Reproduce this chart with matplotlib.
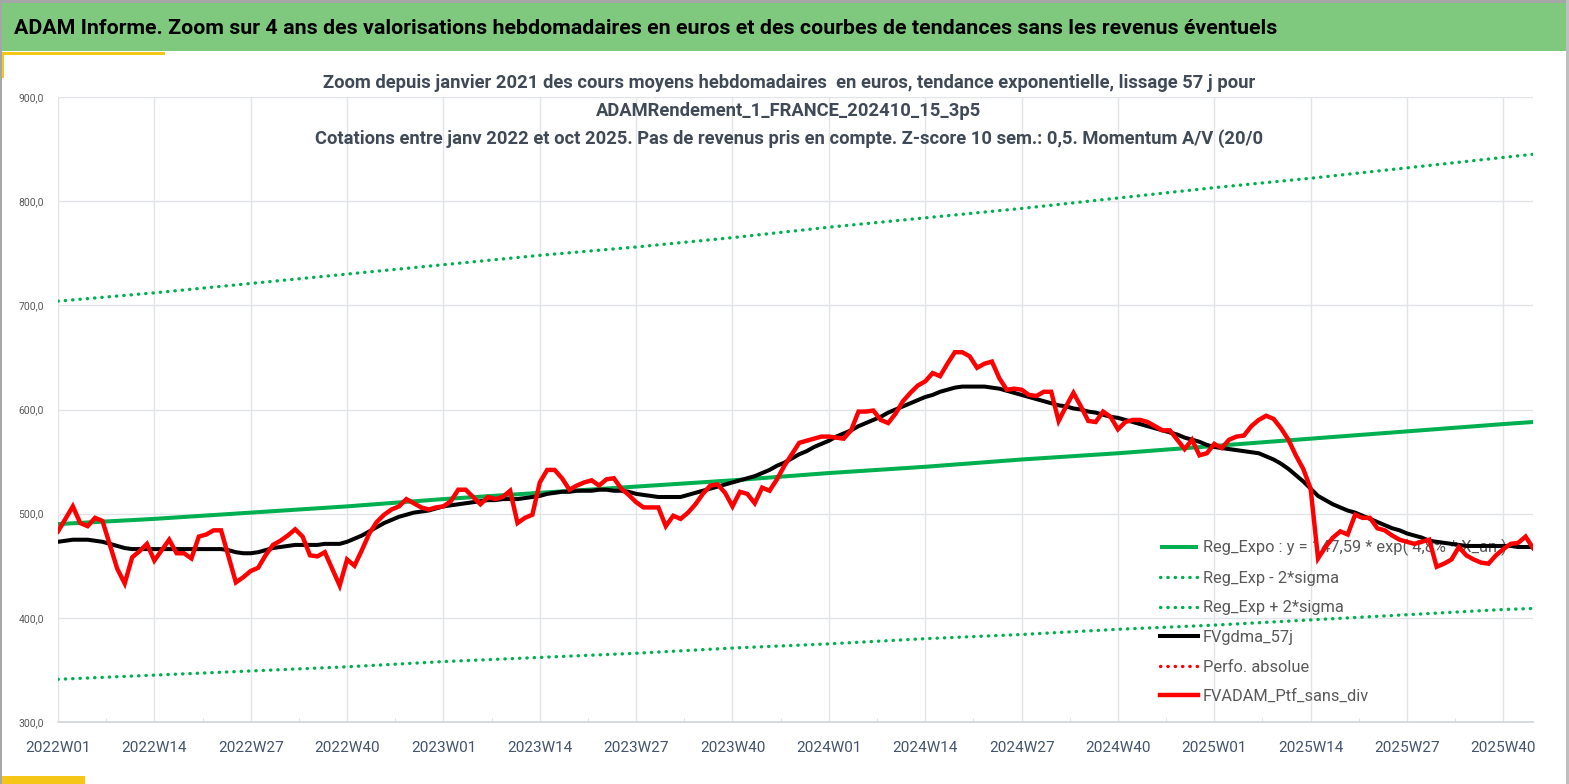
import matplotlib
matplotlib.use('Agg')
import matplotlib.pyplot as plt
from matplotlib import font_manager
from matplotlib.patches import Rectangle
from matplotlib.ticker import FixedLocator

W, H = 1569, 784

# week labels 2022W01 .. 2025W44
years = [2022] * 52 + [2023] * 52 + [2024] * 52 + [2025] * 44
weeknums = list(range(1, 53)) * 3 + list(range(1, 45))
week_labels = ['%dW%02d' % (y, w) for y, w in zip(years, weeknums)]

# FVADAM_Ptf_sans_div (weekly)
ptf = [483, 495, 507, 491, 488, 496, 493, 470, 447, 433,
       458, 464, 471, 455, 465, 475, 462, 462, 457, 478,
       480, 484, 484, 459, 434, 439, 445, 448, 460, 470,
       474, 479, 485, 478, 460, 459, 463, 447, 431, 456,
       450, 465, 481, 492, 499, 504, 507, 514, 510, 506,
       504, 506, 507, 512, 523, 523, 516, 509, 516, 514,
       516, 522, 491, 496, 499, 530, 542, 542, 534, 523,
       527, 530, 532, 527, 533, 534, 524, 518, 511, 506,
       506, 506, 488, 498, 495, 501, 509, 519, 527, 528,
       520, 507, 521, 519, 510, 525, 522, 533, 546, 557,
       568, 570, 572, 574, 574, 573, 572, 580, 598, 598,
       599, 590, 587, 596, 608, 616, 623, 627, 635, 632,
       644, 655, 655, 651, 640, 644, 646, 630, 619, 620,
       619, 614, 613, 617, 617, 589, 603, 616, 603, 589,
       588, 598, 593, 581, 588, 590, 590, 588, 584, 580,
       580, 571, 562, 571, 556, 558, 567, 563, 571, 574,
       575, 584, 590, 594, 591, 582, 571, 556, 543, 524,
       457, 468, 477, 483, 480, 499, 496, 496, 486, 484,
       479, 475, 473, 471, 473, 475, 449, 452, 456, 468,
       460, 456, 453, 452, 460, 466, 471, 472, 478, 467]

# FVgdma_57j (weekly)
gdma = [473, 474, 475, 475, 475, 474, 473, 471, 469, 467,
        466, 466, 466, 466, 466, 466, 466, 466, 466, 466,
        466, 466, 466, 465, 463, 462, 462, 463, 465, 467,
        468, 469, 470, 470, 470, 470, 471, 471, 471, 473,
        476, 479, 483, 487, 491, 494, 497, 499, 501, 502,
        503, 505, 507, 508, 509, 510, 511, 512, 513, 513,
        514, 514, 514, 515, 516, 517, 519, 520, 521, 521,
        522, 522, 522, 523, 523, 522, 522, 521, 519, 518,
        517, 516, 516, 516, 516, 518, 520, 522, 524, 526,
        528, 530, 532, 534, 536, 539, 542, 546, 549, 553,
        557, 560, 564, 567, 570, 574, 577, 580, 584, 587,
        590, 593, 597, 600, 603, 606, 609, 612, 614, 617,
        619, 621, 622, 622, 622, 622, 621, 620, 618, 616,
        614, 612, 610, 608, 606, 604, 603, 601, 600, 598,
        597, 595, 593, 592, 590, 588, 586, 584, 582, 580,
        578, 576, 573, 571, 569, 566, 564, 563, 562, 561,
        560, 559, 558, 555, 552, 548, 543, 537, 531, 524,
        517, 513, 509, 506, 503, 501, 498, 495, 492, 489,
        486, 484, 481, 479, 477, 474, 473, 472, 471, 470,
        469, 469, 469, 469, 469, 469, 469, 468, 468, 468]

# trend and bands, read at each 13-week tick and at the last week
trend_weeks = [0, 13, 26, 39, 52, 65, 78, 91, 104, 117, 130, 143, 156, 169, 182, 195, 199]
reg_expo = [490, 495, 501, 507, 514, 520, 526, 532, 539, 545, 552, 558, 565, 572, 579, 586, 588]
reg_plus = [704, 712, 721, 730, 739, 748, 756, 765, 775, 784, 793, 803, 813, 822, 832, 842, 845]
reg_minus = [341, 345, 349, 353, 358, 362, 366, 371, 375, 380, 384, 389, 393, 398, 403, 408, 409]

y_ticks = [300, 400, 500, 600, 700, 800, 900]


def pick_font(names):
    installed = {f.name for f in font_manager.fontManager.ttflist}
    for n in names:
        if n in installed:
            return n
    return 'DejaVu Sans'


FONT = pick_font(['Liberation Sans Narrow', 'Roboto', 'Open Sans', 'DejaVu Sans'])
plt.rcParams['font.family'] = [FONT, 'DejaVu Sans']


def fx(x):
    return x / W


def fy(y):
    return 1 - y / H


def band(x0, y0, x1, y1, color):
    # rectangle given in pixel coords of the figure (y down)
    fig.patches.append(Rectangle((fx(x0), fy(y1)), fx(x1 - x0), fy(y0) - fy(y1),
                                 transform=fig.transFigure, facecolor=color,
                                 edgecolor='none', zorder=0))


fig = plt.figure(figsize=(W / 100, H / 100), dpi=100)
fig.patch.set_facecolor('white')

# header band and frame decorations
band(0, 0, W, 3, '#a6a6a6')
band(0, 3, W, 51, '#7fc97f')
band(0, 52, 165, 55, '#f5c518')
band(0, 52, 4, 78, '#f5c518')
band(0, 776, 85, H, '#f5c518')
band(0, 0, 2, H, '#a6a6a6')
band(1566, 0, W, H, '#bfbfbf')

fig.text(fx(14), fy(28), 'ADAM Informe. Zoom sur 4 ans des valorisations hebdomadaires en euros '
         'et des courbes de tendances sans les revenus éventuels',
         fontsize=15.4, fontweight='bold', color='black', ha='left', va='center')

title_lines = ['Zoom depuis janvier 2021 des cours moyens hebdomadaires  en euros, tendance exponentielle, lissage 57 j pour',
               'ADAMRendement_1_FRANCE_202410_15_3p5',
               'Cotations entre janv 2022 et oct 2025. Pas de revenus pris en compte. Z-score 10 sem.: 0,5. Momentum A/V (20/0']
for i, line in enumerate(title_lines):
    fig.text(fx(789), fy(83 + 28 * i), line, fontsize=13.2, fontweight='bold',
             color='#404a57', ha='center', va='center')

ax = fig.add_axes([fx(58), fy(722), fx(1533 - 58), fy(97) - fy(722)])
ax.set_facecolor('none')
weeks = list(range(len(ptf)))

dots = (0, (0.1, 2.1))
ax.plot(trend_weeks, reg_expo, color='#00b050', lw=2.9, solid_capstyle='butt',
        label='Reg_Expo : y = 147,59 * exp( 4,8% * X_an )', zorder=3)
ax.plot(trend_weeks, reg_minus, color='#00b050', lw=2.4, linestyle=dots,
        dash_capstyle='round', label='Reg_Exp - 2*sigma', zorder=3)
ax.plot(trend_weeks, reg_plus, color='#00b050', lw=2.4, linestyle=dots,
        dash_capstyle='round', label='Reg_Exp + 2*sigma', zorder=3)
ax.plot(weeks, gdma, color='black', lw=2.9, label='FVgdma_57j', zorder=4)
ax.plot([], [], color='red', lw=2.4, linestyle=dots, dash_capstyle='round',
        label='Perfo. absolue')
ax.plot(weeks, ptf, color='#ff0000', lw=3.2, solid_joinstyle='miter',
        label='FVADAM_Ptf_sans_div', zorder=5)

ax.set_xlim(0, len(ptf) - 1)
ax.set_ylim(300, 900)
tick_pos = list(range(0, len(ptf), 13))
ax.xaxis.set_major_locator(FixedLocator(tick_pos))
ax.set_xticklabels([week_labels[i] for i in tick_pos])
ax.xaxis.set_minor_locator(FixedLocator([p + 6.5 for p in tick_pos]))
ax.set_yticks(y_ticks)
ax.set_yticklabels(['%d,0' % v for v in y_ticks])

ax.grid(True, which='major', color='#e1e5ea', lw=1.0, zorder=0)
for s in ['top', 'right', 'left']:
    ax.spines[s].set_visible(False)
ax.spines['bottom'].set_color('#d0d4da')
ax.spines['bottom'].set_linewidth(1.2)

ax.tick_params(axis='x', which='major', length=0, pad=14, labelsize=11, labelcolor='#44546a')
ax.tick_params(axis='x', which='minor', length=3, direction='in', color='#d9dde2')
ax.tick_params(axis='y', length=0, pad=10, labelsize=7.5, labelcolor='#595959')

leg = ax.legend(loc='upper left', bbox_to_anchor=(fx(1160), fy(539)), bbox_transform=fig.transFigure,
                frameon=False, fontsize=11.8, handlelength=2.3, handletextpad=0.3,
                labelspacing=0.89, borderaxespad=0, borderpad=0)
for t in leg.get_texts():
    t.set_color('#595959')
leg.set_zorder(2)

fig.savefig('out.png', dpi=100, facecolor='white')
